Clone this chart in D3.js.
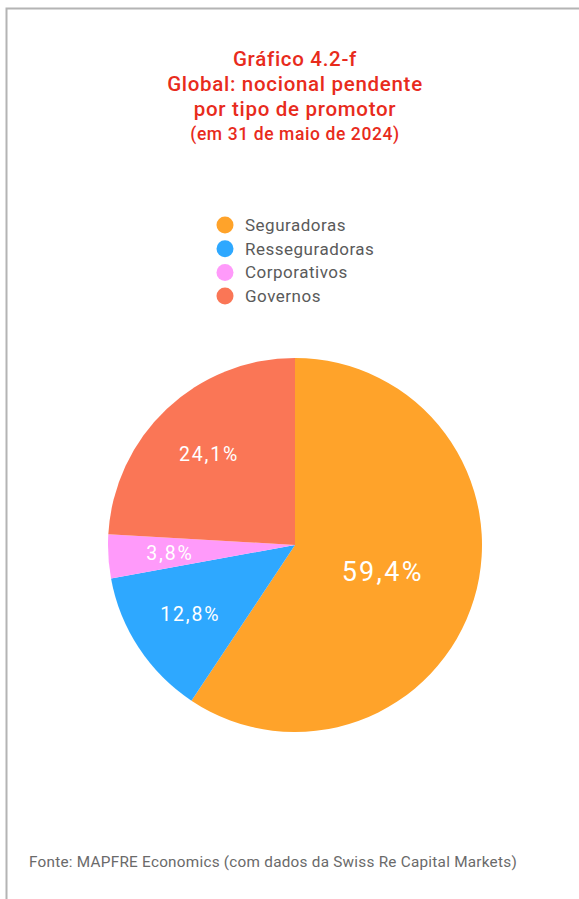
<!DOCTYPE html>
<html>
<head>
 <meta charset="utf-8"/>
 <script src="https://d3js.org/d3.v7.min.js"></script>
 <style>
  body { margin: 0; background: #fff; }
  text { font-family: Roboto, "Noto Sans", sans-serif; }
 </style>
</head>
<body>
 <div id="chart"></div>
 <script type="text/javascript">
   // dados do gráfico
   var categories = ["Seguradoras", "Resseguradoras", "Corporativos", "Governos"];
   var values = [59.4, 12.8, 3.8, 24.1];
   var labels = ["59,4%", "12,8%", "3,8%", "24,1%"];
   var colors = ["#ffa32a", "#2ea8ff", "#ff9afa", "#fa7656"];
   var titleLines = ["Gráfico 4.2-f", "Global: nocional pendente", "por tipo de promotor"];
   var subtitle = "(em 31 de maio de 2024)";
   var source = "Fonte: MAPFRE Economics (com dados da Swiss Re Capital Markets)";

   var width = 579, height = 899;
   var svg = d3.select("#chart").append("svg")
       .attr("width", width).attr("height", height);

   // moldura
   svg.append("path")
      .attr("d", "M6.5,899 V8.5 H579")
      .style("fill", "none").style("stroke", "#b4b4b4").style("stroke-width", 2);

   // título
   svg.selectAll("text.title").data(titleLines).enter().append("text")
      .attr("x", 295).attr("y", function(d, i){ return 66 + i * 25; })
      .attr("text-anchor", "middle")
      .style("font-size", "20.5px").style("font-weight", 500)
      .style("letter-spacing", "0.7px")
      .style("fill", "#e82b1c")
      .text(function(d){ return d; });
   svg.append("text")
      .attr("x", 295).attr("y", 140)
      .attr("text-anchor", "middle")
      .style("font-size", "17.5px").style("font-weight", 500)
      .style("letter-spacing", "0.6px")
      .style("fill", "#e82b1c")
      .text(subtitle);

   // legenda
   var legend = svg.selectAll("g.legend").data(categories).enter().append("g")
      .attr("transform", function(d, i){ return "translate(225," + (225 + i * 23.7) + ")"; });
   legend.append("circle").attr("r", 8.5)
      .style("fill", function(d, i){ return colors[i]; });
   legend.append("text").attr("x", 20).attr("y", 6)
      .style("font-size", "17px").style("fill", "#5a5a5a")
      .style("letter-spacing", "0.5px")
      .text(function(d){ return d; });

   // pizza
   var radius = 187;
   var g = svg.append("g").attr("transform", "translate(295,545)");
   var pie = d3.pie().sort(null).value(function(d){ return d; });
   var arcs = pie(values);
   var arc = d3.arc().innerRadius(0).outerRadius(radius);
   g.selectAll("path.slice").data(arcs).enter().append("path")
    .attr("d", arc)
    .style("fill", function(d, i){ return colors[i]; });

   var maxVal = d3.max(values);
   var labelArc = function(d){
     var r = d.value === maxVal ? radius * 0.49 : radius * 0.67;
     return d3.arc().innerRadius(r).outerRadius(r).centroid(d);
   };
   g.selectAll("text.lbl").data(arcs).enter().append("text")
    .attr("transform", function(d){ return "translate(" + labelArc(d) + ")"; })
    .attr("text-anchor", "middle")
    .attr("dy", "0.36em")
    .style("fill", "#fff")
    .style("letter-spacing", function(d){ return d.value === maxVal ? "2.3px" : "1.8px"; })
    .style("font-size", function(d){ return d.value === maxVal ? "27px" : "19.5px"; })
    .text(function(d, i){ return labels[i]; });

   // fonte
   svg.append("text")
      .attr("x", 29).attr("y", 867)
      .style("font-size", "15.3px").style("fill", "#6a6a6a")
      .style("letter-spacing", "0.25px")
      .text(source);
 </script>
</body>
</html>
